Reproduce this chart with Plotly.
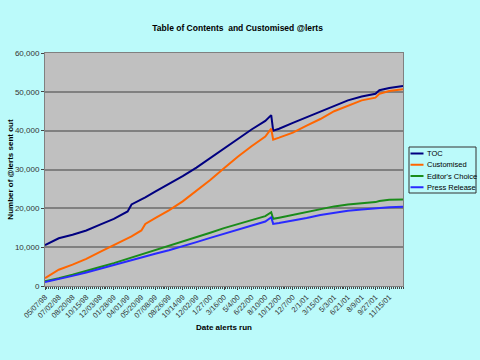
import plotly.graph_objects as go

# Week index (category position) of each sampled point
weeks = [0, 4, 7, 14, 21, 28, 35, 42, 44, 49, 51, 56, 63, 70, 77, 84, 91, 98,
         105, 112, 115, 116, 119, 126, 133, 140, 147, 154, 161, 168, 170, 175, 182]

toc = [10500, 11600, 12300, 13200, 14300, 15800, 17300, 19200, 21000, 22300, 22800,
       24300, 26200, 28300, 30500, 33000, 35500, 38000, 40300, 42500, 44000, 40000,
       40500, 42000, 43500, 45000, 46500, 47800, 48800, 49500, 50400, 51000, 51500]

customised = [2000, 3200, 4200, 5500, 7000, 8800, 10500, 12300, 12800, 14300, 16000,
              17500, 19500, 21800, 24500, 27300, 30300, 33300, 36000, 38500, 40500, 37700,
              38200, 39500, 41300, 43000, 45000, 46500, 47800, 48500, 49500, 50200, 50700]

editors_choice = [1200, 1600, 2000, 2900, 3800, 4900, 5900, 7000, 7300, 8200, 8500,
                  9200, 10200, 11300, 12500, 13700, 14900, 16000, 17000, 18000, 19000, 17300,
                  17600, 18300, 19000, 19800, 20500, 21000, 21300, 21600, 21900, 22200, 22300]

press_release = [1000, 1400, 1800, 2600, 3500, 4500, 5400, 6300, 6600, 7400, 7700,
                 8300, 9200, 10200, 11300, 12400, 13500, 14500, 15500, 16600, 17700, 16000,
                 16200, 16800, 17500, 18300, 18900, 19400, 19700, 20000, 20200, 20300, 20400]

tick_labels = ["05/07/98", "07/02/98", "08/20/98", "10/15/98", "12/03/98", "01/28/99",
               "04/01/99", "05/20/99", "07/08/99", "08/26/99", "10/14/99", "12/02/99",
               "1/27/00", "3/16/00", "5/4/00", "6/22/00", "8/10/00", "10/12/00",
               "12/7/00", "2/1/01", "3/15/01", "5/3/01", "6/21/01", "8/9/01",
               "9/27/01", "11/15/01"]
label_step = 7
n_weeks = 183

series = [
    ("TOC", toc, "#000080"),
    ("Customised", customised, "#FF6600"),
    ("Editor's Choice", editors_choice, "#1A8C1A"),
    ("Press Release", press_release, "#2A2AFF"),
]

W, H = 480, 360
ML, MR, MT, MB = 45, 77, 53, 74
PW, PH = W - ML - MR, H - MT - MB


def px_x(px):
    return (px - ML) / PW


def px_y(py):
    return (H - MB - py) / PH


fig = go.Figure()
for name, vals, col in series:
    fig.add_trace(go.Scatter(x=weeks, y=vals, mode="lines", name=name,
                             line=dict(color=col, width=2), showlegend=False))

font = "Liberation Sans, Arial, sans-serif"

# Legend box drawn with shapes/annotations (Excel-style compact legend)
shapes = [dict(type="rect", xref="paper", yref="paper",
               x0=px_x(409), x1=px_x(476), y0=px_y(193), y1=px_y(147),
               line=dict(color="#333333", width=1), fillcolor="#BBFAFA", layer="above")]
annotations = []
for i, (name, vals, col) in enumerate(series):
    yy = 153.5 + i * 11.25
    shapes.append(dict(type="line", xref="paper", yref="paper",
                       x0=px_x(410.5), x1=px_x(423.5), y0=px_y(yy), y1=px_y(yy),
                       line=dict(color=col, width=2), layer="above"))
    annotations.append(dict(text=name, xref="paper", yref="paper",
                            x=px_x(425.5), y=px_y(yy), xanchor="left", yanchor="middle",
                            showarrow=False, font=dict(size=7.5, color="#000000")))

fig.update_layout(
    width=W, height=H,
    paper_bgcolor="#BBFAFA", plot_bgcolor="#C0C0C0",
    margin=dict(l=ML, r=MR, t=MT, b=MB, autoexpand=False),
    font=dict(family=font, size=8, color="#222222"),
    title=dict(text="<b>Table of Contents  and Customised @lerts</b>",
               x=0.495, xanchor="center", y=0.922, yanchor="middle",
               font=dict(size=8.5, color="#000000")),
    showlegend=False,
    shapes=shapes, annotations=annotations,
)
fig.update_xaxes(
    range=[0, n_weeks - 1], automargin=False,
    tickvals=[i * label_step for i in range(len(tick_labels))],
    ticktext=tick_labels, tickangle=-45,
    ticks="outside", ticklen=3, tickcolor="#444444",
    minor=dict(dtick=1, ticks="outside", ticklen=2, tickcolor="#444444"),
    showgrid=False, showline=True, linecolor="#808080", linewidth=1,
    mirror=True, zeroline=False,
    tickfont=dict(size=7.5, color="#333333"),
    title=dict(text="<b>Date alerts run</b>", font=dict(size=8, color="#000000"),
               standoff=5),
)
fig.update_yaxes(
    range=[0, 60000], dtick=10000, tickformat=",", automargin=False,
    ticks="outside", ticklen=3, tickcolor="#444444",
    showgrid=True, gridcolor="#808080", gridwidth=2,
    showline=True, linecolor="#808080", linewidth=1, mirror=True, zeroline=False,
    tickfont=dict(size=8, color="#333333"),
    title=dict(text="<b>Number of @lerts sent out</b>", font=dict(size=8, color="#000000"),
               standoff=0),
)

fig.write_html("out.html", config={"displayModeBar": False},
               post_script="document.body.style.margin='0';"
                           "document.body.style.background='#BBFAFA';")
